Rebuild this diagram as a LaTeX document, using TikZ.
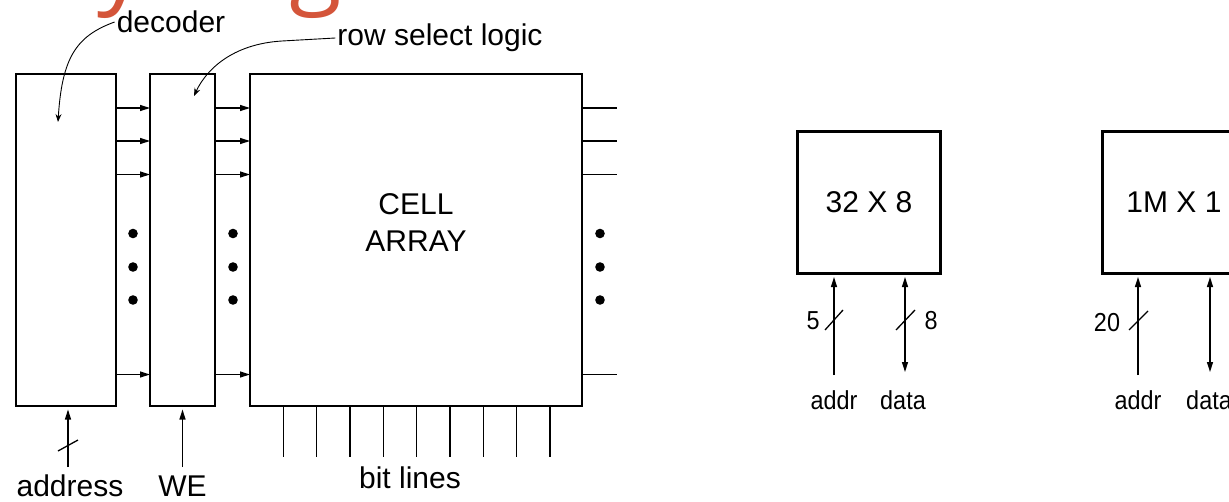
\documentclass[tikz,border=0pt]{standalone}
\usepackage{fontspec}
\setmainfont{Liberation Sans}
\newfontfamily\narrowfont[FakeStretch=0.9]{Liberation Sans}
\newfontfamily\titlefont{Open Sans}
\usetikzlibrary{arrows.meta,positioning}
\definecolor{titlered}{HTML}{D4553A}

\begin{document}
\begin{tikzpicture}[
  x=1pt, y=-1pt,
  block/.style={draw, line width=2.6pt, inner sep=0pt, outer sep=0pt},
  wire/.style={line width=1.3pt},
  sig/.style={wire, -{Triangle[length=10pt,width=6pt]}},
  bus/.style={wire, -{Triangle[length=10pt,width=6pt]}, shorten >=3.5pt},
  biwire/.style={wire, {Triangle[length=10pt,width=6pt]}-{Triangle[length=10pt,width=6pt]}, shorten <=3.5pt},
  callout/.style={line width=0.9pt, -{Stealth[length=8pt,width=6pt]}},
  lbl/.style={font=\fontsize{30}{37}\selectfont, inner sep=2pt},
  small/.style={font=\narrowfont\fontsize{26}{30}\selectfont, inner sep=1pt}
]
\useasboundingbox (0,0) rectangle (1229,501);
\clip (0,0) rectangle (1229,501);

% what is left of the title
\node[anchor=base west, inner sep=0pt, text=titlered, font=\titlefont\fontsize{96}{96}\selectfont] (ttly) at (97,-5) {y};
\node[anchor=base west, inner sep=0pt, text=titlered, font=\titlefont\fontsize{96}{96}\selectfont] (ttlg) at (289,-5) {g};

% memory organisation
\node[block, minimum width=100pt, minimum height=332pt] (dec) at (66,240) {};
\node[block, minimum width=65pt, minimum height=332pt] (rsl) at (182.5,240) {};
\node[block, minimum width=332pt, minimum height=332pt] (cell) at (416,240) {};
\node[lbl, align=center] (celltxt) at ([yshift=17pt]cell.center) {CELL\\ARRAY};

\foreach \y in {108,141,174.5,374.5} {
  \draw[sig] (dec.east |- 0,\y) -- (rsl.west |- 0,\y);
  \draw[sig] (rsl.east |- 0,\y) -- (cell.west |- 0,\y);
  \draw[wire] (cell.east |- 0,\y) -- ++(35,0);
}
\foreach \x in {133,233,600}
  \foreach \y in {233.5,267,300}
    \fill (\x,\y) circle (4.8pt);
\foreach \i in {1,...,9}
  \draw[wire] (cell.south west) ++(\i*33.33,0) -- ++(0,51);

\node[lbl] (declbl) at (171,22) {decoder};
\node[lbl] (rsllbl) at (440,38) {row select logic};
\coordinate (dectip) at (58,122);
\coordinate (rsltip) at (194,96);
\draw[callout] (declbl.west) .. controls (76,36) and (62,58) .. (dectip);
\draw[callout] (rsllbl.west) -- (282,41) .. controls (232,44) and (206,70) .. (rsltip);

\coordinate (addrin) at (68,467);
\coordinate (wein) at (182.5,467);
\draw[bus] (addrin) -- (addrin |- dec.south);
\draw[wire] (addrin) ++(-10,-16) -- ++(20,-11);
\draw[bus] (wein) -- (wein |- rsl.south);
\node[lbl] (addrlbl) at (70,486) {address};
\node[lbl] (welbl) at (182.5,486) {WE};
\node[lbl] (bitlbl) at (410,478) {bit lines};

% two chip examples
\node[block, minimum width=143.5pt, minimum height=142pt, font=\fontsize{30}{36}\selectfont] (mem1) at (869,202.5) {32 X 8};
\node[block, minimum width=143.5pt, minimum height=142pt, font=\fontsize{30}{36}\selectfont] (mem2) at (1174,202.5) {1M X 1};

\coordinate (a1) at (834,375);
\coordinate (d1) at (905,372);
\draw[bus] (a1) -- (a1 |- mem1.south);
\draw[biwire] (mem1.south -| d1) -- (d1);
\draw[wire] (a1) ++(-9,-45) -- ++(18,-20);
\draw[wire] (d1) ++(-9,-42) -- ++(19,-20);
\node[small] (w1) at (813,321) {5};
\node[small] (w2) at (931,321) {8};
\node[small] (al1) at (834,400) {addr};
\node[small] (dl1) at (903,400) {data};

\coordinate (a2) at (1138,375);
\coordinate (d2) at (1210,372);
\draw[bus] (a2) -- (a2 |- mem2.south);
\draw[biwire] (mem2.south -| d2) -- (d2);
\draw[wire] (a2) ++(-9,-45) -- ++(19,-19);
\node[small] (w3) at (1107,323) {20};
\node[small] (al2) at (1138,400) {addr};
\node[small] (dl2) at (1209,400) {data};
\end{tikzpicture}
\end{document}
